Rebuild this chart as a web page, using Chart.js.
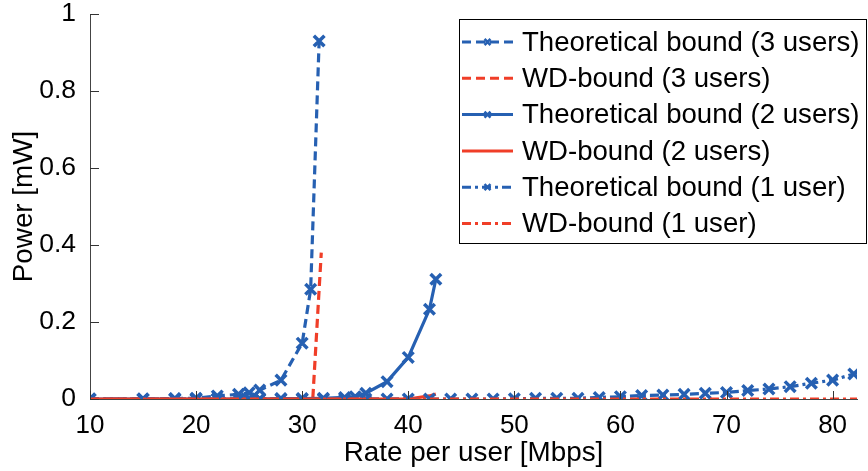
<!DOCTYPE html>
<html><head><meta charset="utf-8">
<script src="https://cdn.jsdelivr.net/npm/chart.js@4.4.1/dist/chart.umd.min.js"></script>
<style>html,body{margin:0;padding:0;background:#fff;}</style>
</head><body>
<canvas id="c" width="868" height="471"></canvas>
<script>
// ---- data ----
const rate3 = [10, 15, 18, 20, 22, 24, 25, 26, 28, 30, 30.8, 31.6];
const theo3 = [0, 0, 0.001, 0.002, 0.008, 0.012, 0.016, 0.023, 0.049, 0.145, 0.285, 0.93];
const rateWd3 = [10, 15, 20, 25, 30, 31, 31.8];
const wd3 = [0, 0, 0, 0, 0, 0, 0.38];
const rate2 = [10, 15, 18, 20, 22, 24, 25, 26, 28, 30, 32, 34, 35, 36, 38, 40, 42, 42.6];
const theo2 = [0, 0, 0, 0, 0, 0, 0, 0, 0.001, 0.001, 0.002, 0.004, 0.006, 0.015, 0.045, 0.108, 0.233, 0.311];
const rateWd2 = [10, 15, 20, 25, 30, 35, 40, 42, 42.6];
const wd2 = [0, 0, 0, 0, 0, 0, 0, 0.008, 0.013];
const rate1 = [10, 15, 18, 20, 22, 24, 25, 26, 28, 30, 32, 34, 36, 38, 40, 42, 44, 46, 48, 50, 52, 54, 56, 58, 60, 62, 64, 66, 68, 70, 72, 74, 76, 78, 80, 82, 84];
const theo1 = [0, 0, 0, 0, 0, 0, 0, 0, 0, 0, 0, 0, 0, 0, 0, 0, 0, 0, 0, 0.0005, 0.0017, 0.002, 0.002, 0.004, 0.006, 0.009, 0.010, 0.012, 0.015, 0.017, 0.022, 0.026, 0.032, 0.041, 0.049, 0.065, 0.085];
const rateWd1 = [10, 20, 30, 40, 50, 60, 70, 80, 84];
const wd1 = [0, 0, 0, 0, 0, 0, 0, 0, 0];
const seriesNames = ['Theoretical bound (3 users)', 'WD-bound (3 users)', 'Theoretical bound (2 users)', 'WD-bound (2 users)', 'Theoretical bound (1 user)', 'WD-bound (1 user)'];
const xTitle = 'Rate per user [Mbps]';
const yTitle = 'Power [mW]';

const BLUE = 'rgb(38,96,178)';
const RED = 'rgb(240,62,40)';
const FONT = '"Liberation Sans", Arial, Helvetica, sans-serif';

const pts = (xs, ys) => xs.map((x, i) => ({x: x, y: ys[i]}));
const DASH = [9, 5];
const DASHDOT = [9, 4, 3, 4];

function ds(label, data, color, dash, marker, order) {
  return {
    label, data, borderColor: color, backgroundColor: color,
    borderWidth: 3.2, borderDash: dash, tension: 0, order,
    pointStyle: marker ? 'crossRot' : false,
    pointRadius: marker ? 7.5 : 0, pointBorderWidth: 3.5, pointBorderColor: color,
    pointHoverRadius: marker ? 7.5 : 0
  };
}

const datasets = [
  ds(seriesNames[0], pts(rate3, theo3), BLUE, DASH, true, 6),
  ds(seriesNames[1], pts(rateWd3, wd3), RED, DASH, false, 5),
  ds(seriesNames[2], pts(rate2, theo2), BLUE, [], true, 4),
  ds(seriesNames[3], pts(rateWd2, wd2), RED, [], false, 3),
  ds(seriesNames[4], pts(rate1, theo1), BLUE, DASHDOT, true, 2),
  ds(seriesNames[5], pts(rateWd1, wd1), RED, DASHDOT, false, 1)
];

const decor = {
  id: 'decor',
  afterDraw(chart) {
    const ctx = chart.ctx;
    const xs = chart.scales.x, ys = chart.scales.y;
    const a = chart.chartArea;
    ctx.save();
    // inward tick marks
    ctx.strokeStyle = '#333'; ctx.lineWidth = 1;
    xs.ticks.forEach(t => {
      const px = Math.round(xs.getPixelForValue(t.value)) + 0.5;
      ctx.beginPath(); ctx.moveTo(px, a.bottom); ctx.lineTo(px, a.bottom - 8); ctx.stroke();
    });
    ys.ticks.forEach(t => {
      const py = Math.round(ys.getPixelForValue(t.value)) + 0.5;
      ctx.beginPath(); ctx.moveTo(a.left, py); ctx.lineTo(a.left + 9, py); ctx.stroke();
    });
    // legend
    const bx = 459.5, by = 19.5, bw = 407, bh = 224;
    ctx.fillStyle = '#fff'; ctx.fillRect(bx, by, bw, bh);
    ctx.strokeStyle = '#000'; ctx.lineWidth = 1; ctx.strokeRect(bx, by, bw, bh);
    chart.data.datasets.forEach((d, i) => {
      const cy = 42 + i * 36.3;
      ctx.strokeStyle = d.borderColor; ctx.lineWidth = 3;
      ctx.setLineDash(d.borderDash || []);
      ctx.beginPath(); ctx.moveTo(462, cy); ctx.lineTo(513, cy); ctx.stroke();
      ctx.setLineDash([]);
      if (d.pointStyle) {
        const r = 3, cx = 487.5;
        ctx.lineWidth = 2.5;
        ctx.beginPath();
        ctx.moveTo(cx - r, cy - r); ctx.lineTo(cx + r, cy + r);
        ctx.moveTo(cx - r, cy + r); ctx.lineTo(cx + r, cy - r);
        ctx.stroke();
      }
      ctx.fillStyle = '#000';
      ctx.font = '27.6px ' + FONT;
      ctx.textBaseline = 'middle'; ctx.textAlign = 'left';
      ctx.fillText(d.label, 522, cy + 1);
    });
    ctx.restore();
  }
};

new Chart(document.getElementById('c'), {
  type: 'line',
  data: { datasets },
  options: {
    responsive: false, animation: false,
    layout: { padding: { top: 14, right: 0, left: 0, bottom: 0 } },
    plugins: { legend: { display: false }, tooltip: { enabled: false } },
    scales: {
      x: {
        type: 'linear', min: 10, max: 82.3,
        grid: { display: false },
        border: { display: true, color: '#444', width: 1 },
        ticks: { stepSize: 10, includeBounds: false, autoSkip: false, maxRotation: 0,
                 color: '#000', font: { family: FONT, size: 26 }, padding: 3 },
        title: { display: true, text: xTitle, color: '#000', font: { family: FONT, size: 27.8 }, padding: { top: 0, bottom: 1 } },
        afterFit(s) { s.height = 72; s.paddingLeft = 0; s.paddingRight = 0; }
      },
      y: {
        type: 'linear', min: 0, max: 1,
        grid: { display: false },
        border: { display: true, color: '#444', width: 1 },
        ticks: { stepSize: 0.2, color: '#000', font: { family: FONT, size: 26.5 }, padding: 6,
                 callback: v => String(+Number(v).toFixed(1)) },
        title: { display: true, text: yTitle, color: '#000', font: { family: FONT, size: 27.8 }, padding: { top: 8, bottom: 0 } },
        afterFit(s) { s.width = 90; s.paddingTop = 0; s.paddingBottom = 0; }
      }
    }
  },
  plugins: [decor]
});
</script>
</body></html>
